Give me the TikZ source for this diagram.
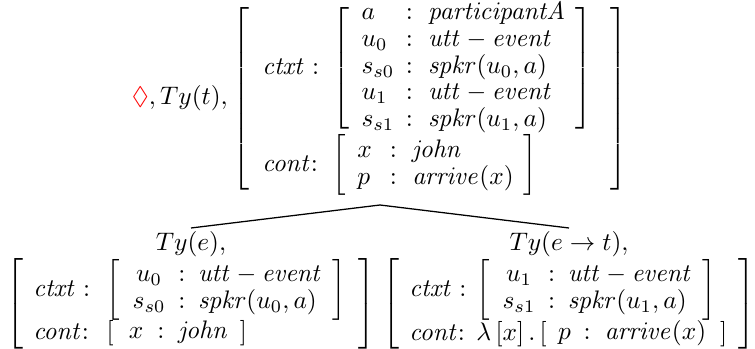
\documentclass[tikz,border=0pt]{standalone}
\usepackage{amsmath,amssymb}
\usepackage{xcolor}
% #1 first column alignment, #2 left pad, #3 gap before colon, #4 gap after colon, #5 right pad, #6 rows
\newcommand{\inrec}[6]{\left[\begin{array}{@{\hspace{#2}}#1@{\hspace{#3}}c@{\hspace{#4}}l@{\hspace{#5}}}#6\end{array}\right]}
\begin{document}
\renewcommand{\arraystretch}{0.87}
\begin{tikzpicture}[x=0.394pt,y=-0.394pt,
  rec/.style={inner sep=0pt, outer sep=0pt},
  dtr/.style={inner sep=0pt, outer sep=1.2pt, anchor=north},
  edge/.style={draw=black, line width=0.5pt}]
\useasboundingbox (0,0) rectangle (755,349);
\node[rec] (top) at (379.5,98.5) {$\textcolor{red}{\Diamond}, Ty(t),
  \left[\begin{array}{@{\hspace{5.3pt}}l@{\hspace{5.3pt}}l@{\hspace{7pt}}}
    \mathit{ctxt} : & \inrec{l}{4.7pt}{4.5pt}{6pt}{4pt}{
        a & : & \mathit{participantA}\\
        u_0 & : & \mathit{utt}-\mathit{event}\\
        s_{s0} & : & \mathit{spkr}(u_0,a)\\
        u_1 & : & \mathit{utt}-\mathit{event}\\
        s_{s1} & : & \mathit{spkr}(u_1,a)}\\
    \mathit{cont}{:} & \inrec{l}{4.5pt}{7pt}{6pt}{4pt}{
        x & : & \mathit{john}\\
        p & : & \mathit{arrive}(x)}
  \end{array}\right]$};
\node[dtr] (left) at (191,228) {$\begin{array}{@{}c@{}}
  Ty(e),\\
  \left[\begin{array}{@{\hspace{4pt}}l@{\hspace{6.5pt}}l@{\hspace{5.2pt}}}
    \mathit{ctxt} : & \inrec{c}{5pt}{5pt}{5pt}{4pt}{
        u_0 & : & \mathit{utt}-\mathit{event}\\
        s_{s0} & : & \mathit{spkr}(u_0,a)}\\
    \mathit{cont}{:} & \inrec{l}{6pt}{5.5pt}{5.5pt}{4.5pt}{
        x & : & \mathit{john}}
  \end{array}\right]
\end{array}$};
\node[dtr] (right) at (569,228) {$\begin{array}{@{}c@{}}
  Ty(e\rightarrow t),\\
  \left[\begin{array}{@{\hspace{4pt}}l@{\hspace{4pt}}l@{\hspace{4.5pt}}}
    \mathit{ctxt} : & \inrec{c}{5pt}{5pt}{5pt}{4pt}{
        u_1 & : & \mathit{utt}-\mathit{event}\\
        s_{s1} & : & \mathit{spkr}(u_1,a)}\\
    \mathit{cont}{:} & \lambda\left[x\right].\inrec{l}{4.5pt}{5pt}{5.5pt}{5.5pt}{
        p & : & \mathit{arrive}(x)}
  \end{array}\right]
\end{array}$};
\coordinate (root) at (380,205);
\draw[edge] (root) -- (left.north);
\draw[edge] (root) -- (right.north);
\end{tikzpicture}
\end{document}
